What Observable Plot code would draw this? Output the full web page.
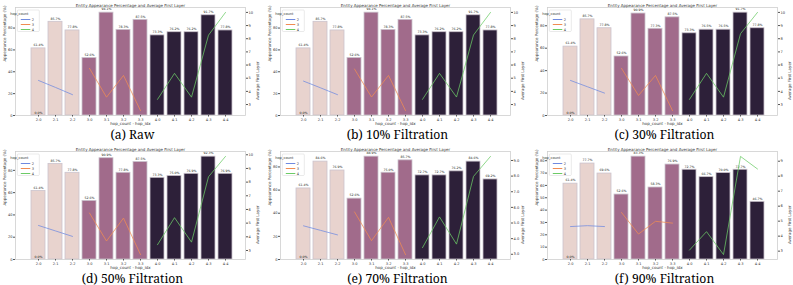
<!DOCTYPE html>
<html><head><meta charset="utf-8">
<script src="https://cdn.jsdelivr.net/npm/d3@7"></script>
<script src="https://cdn.jsdelivr.net/npm/@observablehq/plot@0.6"></script>
<style>
html,body{margin:0;padding:0;background:#fff}
#root{position:relative;width:793px;height:285px;overflow:hidden;background:#fff}
.panel{position:absolute;width:265px;height:142px}
.panel svg{position:absolute;left:0;top:0;overflow:visible}
.cap{position:absolute;left:0;width:265px;text-align:center;font-family:'Noto Serif','DejaVu Serif',serif;font-size:12.2px;line-height:14px;color:#000;white-space:nowrap}
</style></head><body><div id="root"></div><script>
const categories = ["2-0","2-1","2-2","3-0","3-1","3-2","3-3","4-0","4-1","4-2","4-3","4-4"];
const hopCounts = [2,2,2,3,3,3,3,4,4,4,4,4];
const hopLevels = [2,3,4];
const barColors = ["#e8d3ce","#a16b8b","#2d2039"];
const lineColors = ["#6f8ae0","#f08c52","#6ccb66"];
const captions = ["(a) Raw","(b) 10% Filtration","(c) 30% Filtration","(d) 50% Filtration","(e) 70% Filtration","(f) 90% Filtration"];
const chartTitle = "Entity Appearance Percentage and Average First Layer";
const xLabel = "hop_count - hop_idx";
const yLeftLabel = "Appearance Percentage (%)";
const yRightLabel = "Average First Layer";
const legendTitle = "hop_count";
const zeroLabel = "0.0%";

const pctRaw = [61.4,85.7,77.8,52.6,94.1,78.3,87.5,73.3,76.2,76.2,91.7,77.8];
const pct10  = [61.4,85.7,77.8,52.6,94.1,78.3,87.5,73.3,76.2,76.2,91.7,77.8];
const pct30  = [61.4,85.7,77.8,52.6,90.9,77.3,87.5,73.3,76.5,76.5,91.7,77.8];
const pct50  = [61.4,85.7,77.8,52.6,90.9,77.8,87.5,73.3,75.0,76.9,92.3,76.9];
const pct70  = [61.4,84.6,76.9,52.6,88.9,75.0,85.7,72.7,72.7,76.2,84.6,69.2];
const pct90  = [61.4,77.7,69.6,52.6,83.3,58.3,76.9,72.7,66.7,70.0,72.7,46.7];

const layerRaw = [4.83,4.30,3.75,5.75,3.56,5.21,2.54,3.39,5.37,3.56,8.27,10.0];
const layer10  = [4.78,4.27,3.75,5.70,3.57,5.21,2.54,3.39,5.37,3.57,8.28,10.0];
const layer30  = [4.83,4.35,3.87,5.75,3.69,5.21,2.54,3.39,5.37,3.56,8.38,10.0];
const layer50  = [4.83,4.43,4.03,5.74,3.69,5.37,2.70,3.42,5.40,3.61,8.39,9.88];
const layer70  = [4.82,4.53,4.24,5.71,3.87,5.36,2.98,3.42,5.39,3.65,7.98,9.26];
const layer90  = [4.64,4.70,4.64,5.58,4.14,4.99,4.87,3.07,4.30,2.77,9.32,8.48];

const leftTicksCoarse = [0,20,40,60,80];
const leftTicksFine = [0,10,20,30,40,50,60,70,80];
const rightTicksTo10 = [3,4,5,6,7,8,9,10];
const rightTicksTo9 = [3,4,5,6,7,8,9];

const panels = [
  {pct:pctRaw, layer:layerRaw, cap:captions[0], lt:leftTicksCoarse, rt:rightTicksTo10},
  {pct:pct10,  layer:layer10,  cap:captions[1], lt:leftTicksCoarse, rt:rightTicksTo10},
  {pct:pct30,  layer:layer30,  cap:captions[2], lt:leftTicksCoarse, rt:rightTicksTo10},
  {pct:pct50,  layer:layer50,  cap:captions[3], lt:leftTicksCoarse, rt:rightTicksTo10},
  {pct:pct70,  layer:layer70,  cap:captions[4], lt:leftTicksCoarse, rt:rightTicksTo9},
  {pct:pct90,  layer:layer90,  cap:captions[5], lt:leftTicksFine,   rt:rightTicksTo9}
];

const W = 265, H = 128, ML = 15, MR = 20, MT = 7, MB = 13;
const colX = [0, 265, 532], rowY = [0, 144];
const FONT = "DejaVu Sans, sans-serif";
const root = document.getElementById("root");

panels.forEach((p, i) => {
  const div = document.createElement("div");
  div.className = "panel";
  div.style.left = colX[i % 3] + "px";
  div.style.top = rowY[Math.floor(i / 3)] + "px";
  root.appendChild(div);

  const rows = categories.map((c, k) => ({cat: c, hop: hopCounts[k], pct: p.pct[k], layer: p.layer[k]}));
  const xOpt = {type: "band", domain: categories, range: [ML + 10, W - MR - 6], paddingInner: 0.16, paddingOuter: 0.08, label: null};
  const pmax = d3.max(p.pct);
  const [lmin, lmax] = d3.extent(p.layer);
  const lpad = (lmax - lmin) * 0.05;

  const bars = Plot.plot({
    width: W, height: H, marginLeft: ML, marginRight: MR, marginTop: MT, marginBottom: MB,
    style: {fontFamily: FONT, fontSize: "4px", color: "#333", background: "transparent", overflow: "visible"},
    x: xOpt,
    y: {domain: [0, pmax * 1.05], label: null},
    color: {type: "ordinal", domain: hopLevels, range: barColors},
    marks: [
      Plot.barY(rows, {x: "cat", y: "pct", fill: "hop", stroke: "#cbc3cd", strokeWidth: 0.8}),
      Plot.text(rows, {x: "cat", y: "pct", text: d => d.pct.toFixed(1) + "%", dy: -2.2, lineAnchor: "bottom", fontSize: 3.2, fill: "#222"}),
      Plot.text([{cat: categories[0], v: 0, t: zeroLabel}], {x: "cat", y: "v", text: "t", dy: -1.5, lineAnchor: "bottom", fontSize: 3.2, fill: "#222"}),
      Plot.frame({stroke: "#cfcfcf", strokeWidth: 0.8}),
      Plot.axisY({ticks: p.lt, tickSize: 2, tickPadding: 1, fontSize: 3.6, label: null, stroke: "#555"}),
      Plot.axisX({tickSize: 1.5, tickPadding: 1.8, fontSize: 3.5, label: null, stroke: "#555"}),
      Plot.text([xLabel], {text: d => d, frameAnchor: "bottom", dy: 9.5, fontSize: 4, fill: "#333"}),
      Plot.text([yLeftLabel], {text: d => d, frameAnchor: "left", dx: -11, rotate: -90, fontSize: 4, fill: "#333"}),
      Plot.text([chartTitle], {text: d => d, frameAnchor: "top", dy: -3.2, fontSize: 4, fill: "#333"})
    ]
  });
  div.appendChild(bars);

  const lines = Plot.plot({
    width: W, height: H, marginLeft: ML, marginRight: MR, marginTop: MT, marginBottom: MB,
    style: {fontFamily: FONT, fontSize: "4px", color: "#333", background: "transparent", overflow: "visible"},
    x: {...xOpt, axis: null},
    y: {domain: [lmin - lpad, lmax + lpad], label: null, axis: null},
    color: {type: "ordinal", domain: hopLevels, range: lineColors},
    marks: [
      Plot.line(rows, {x: "cat", y: "layer", z: "hop", stroke: "hop", strokeWidth: 0.8, strokeOpacity: 0.95}),
      Plot.axisY({anchor: "right", ticks: p.rt, tickSize: 2, tickPadding: 1, fontSize: 3.6, label: null, stroke: "#555"}),
      Plot.text([yRightLabel], {text: d => d, frameAnchor: "right", dx: 12.5, rotate: -90, fontSize: 4, fill: "#333"})
    ]
  });
  div.appendChild(lines);

  const g = d3.select(lines).append("g").attr("font-family", FONT);
  const lx = ML + 2.3, ly = MT + 3;
  g.append("rect").attr("x", lx).attr("y", ly).attr("width", 22).attr("height", 21.5)
    .attr("rx", 1).attr("fill", "white").attr("fill-opacity", 0.85).attr("stroke", "#d5d5d5").attr("stroke-width", 0.5);
  g.append("text").attr("x", lx + 2).attr("y", ly + 5).attr("font-size", 3.5).attr("fill", "#333").text(legendTitle);
  hopLevels.forEach((h, j) => {
    const yy = ly + 9.5 + j * 5;
    g.append("line").attr("x1", lx + 3.5).attr("x2", lx + 13).attr("y1", yy).attr("y2", yy)
      .attr("stroke", lineColors[j]).attr("stroke-width", 1);
    g.append("text").attr("x", lx + 15.5).attr("y", yy + 1.2).attr("font-size", 3.5).attr("fill", "#333").text(String(h));
  });

  const cap = document.createElement("div");
  cap.className = "cap";
  cap.style.top = "127.5px";
  cap.textContent = p.cap;
  div.appendChild(cap);
});
</script></body></html>
